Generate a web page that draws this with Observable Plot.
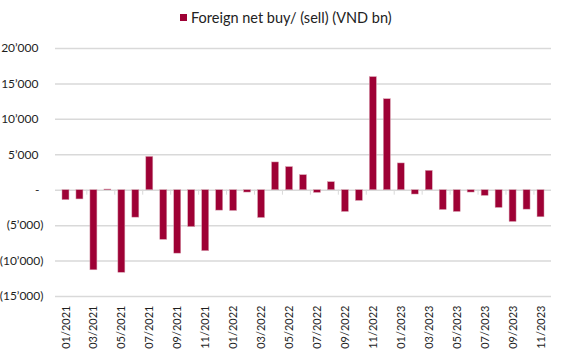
<!DOCTYPE html>
<html>
<head>
<meta charset="utf-8">
<script src="https://cdn.jsdelivr.net/npm/d3@7"></script>
<script src="https://cdn.jsdelivr.net/npm/@observablehq/plot@0.6"></script>
<style>
  html, body { margin: 0; padding: 0; background: #fff; }
  #wrap { position: relative; width: 566px; height: 359px; font-family: Lato, "Open Sans", sans-serif; }
  #legend { position: absolute; left: 180px; top: 9px; font-size: 14.5px; color: #222; display: flex; align-items: center; white-space: nowrap; }
  #legend .sw { width: 7px; height: 7px; background: #9e0135; margin-right: 4px; display: inline-block; }
</style>
</head>
<body>
<div id="wrap">
  <div id="legend"><span class="sw"></span><span>Foreign net buy/ (sell) (VND bn)</span></div>
</div>
<script>
const months = [
  "01/2021","02/2021","03/2021","04/2021","05/2021","06/2021","07/2021","08/2021","09/2021","10/2021","11/2021","12/2021",
  "01/2022","02/2022","03/2022","04/2022","05/2022","06/2022","07/2022","08/2022","09/2022","10/2022","11/2022","12/2022",
  "01/2023","02/2023","03/2023","04/2023","05/2023","06/2023","07/2023","08/2023","09/2023","10/2023","11/2023"
];
const netBuy = [
  -1400, -1300, -11300, 100, -11650, -3870, 4700, -7000, -8950, -5200, -8600, -2880,
  -2930, -330, -3920, 3920, 3260, 2120, -380, 1130, -3070, -1510, 15960, 12840,
  3780, -610, 2730, -2790, -3070, -330, -800, -2500, -4480, -2740, -3820
];
const yTicks = [20000, 15000, 10000, 5000, 0, -5000, -10000, -15000];
const xTickLabels = months.filter((d, i) => i % 2 === 0);
const tickBoundaries = months.filter((d, i) => i % 2 === 0 && i > 0);

const data = months.map((m, i) => ({month: m, value: netBuy[i]}));

const fmtNum = v => d3.format(",")(Math.abs(v)).replace(/,/g, "\u2019");
const posTicks = yTicks.filter(v => v > 0);
const negTicks = yTicks.filter(v => v < 0);

const step = (566 - 55 - 15) / months.length;

const chart = Plot.plot({
  width: 566,
  height: 359,
  marginLeft: 55,
  marginRight: 15,
  marginTop: 48,
  marginBottom: 63,
  style: {fontFamily: "Lato, 'Open Sans', sans-serif", color: "#1e1e1e", background: "#fff"},
  x: {domain: months, padding: 0.5, label: null},
  y: {domain: [-15000, 20000], label: null},
  marks: [
    Plot.ruleY(yTicks, {stroke: "#d9d9d9", strokeWidth: 1.5}),
    Plot.ruleX(tickBoundaries, {x: d => d, y1: 0, y2: -700, dx: -step / 2, stroke: "#d9d9d9", strokeWidth: 1}),
    Plot.barY(data, {x: "month", y: "value", fill: "#9e0135", stroke: "#d7a0b0", strokeWidth: 0.5}),
    Plot.axisY(posTicks, {tickSize: 0, tickPadding: 17, fontSize: 12, tickFormat: fmtNum, label: null}),
    Plot.axisY([0], {tickSize: 0, tickPadding: 16, fontSize: 12, tickFormat: () => "-", label: null}),
    Plot.axisY(negTicks, {tickSize: 0, tickPadding: 12, fontSize: 12, tickFormat: v => "(" + fmtNum(v) + ")", label: null}),
    Plot.axisX(xTickLabels, {tickSize: 0, tickPadding: 9, tickRotate: -90, fontSize: 11, label: null})
  ]
});
document.getElementById("wrap").insertBefore(chart, document.getElementById("legend"));
</script>
</body>
</html>
